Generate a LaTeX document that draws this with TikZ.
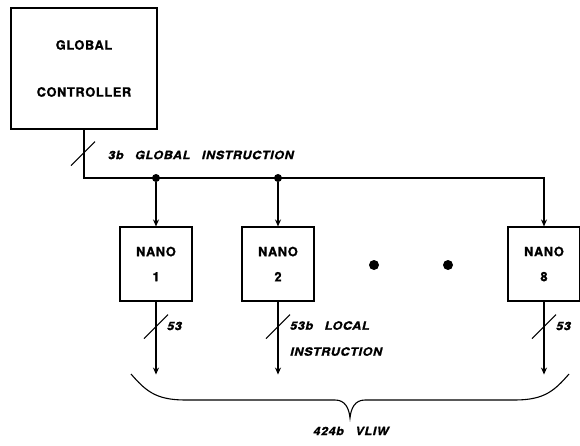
\documentclass[tikz,border=0pt]{standalone}
\usepackage{fontspec}
\setmainfont{TeX Gyre Heros}
\newfontfamily\boxfont{TeX Gyre Heros}[LetterSpace=5,FakeBold=1]
\newfontfamily\tagfont{TeX Gyre Heros}[LetterSpace=5,FakeStretch=1.1,FakeBold=1]
\usetikzlibrary{arrows.meta,calc}

\tikzset{
  >={Stealth[length=7pt,width=6pt]},
  unit/.style={draw, line width=1.1pt, minimum width=72pt, minimum height=74pt, inner sep=0pt, align=center, font=\boxfont\bfseries\fontsize{12.8}{15}\selectfont},
  tag/.style={inner sep=0pt, font=\tagfont\bfseries\itshape\fontsize{11.5}{13}\selectfont},
  tap/.style={circle, fill, inner sep=0pt, minimum size=8pt},
  more/.style={circle, fill, inner sep=0pt, minimum size=10pt},
  bus/.style={line width=1.1pt},
}

\begin{document}
\begin{tikzpicture}[x=1pt,y=-1pt]
\useasboundingbox (0,0) rectangle (580,446);

\node (gc) at (84,68.5) [unit, minimum width=146pt, minimum height=121pt] {GLOBAL\\[32pt]CONTROLLER};

\foreach \n/\x in {1/156,2/278,8/544}
    \node (n\n) at (\x,264) [unit] {NANO\\[10pt]\n};

\node (e1) at (374,265) [more] {};
\node (e2) at (448,265) [more] {};

% global instruction bus
\coordinate (bend) at (84,178);
\node (t1) at (156,178) [tap] {};
\node (t2) at (278,178) [tap] {};
\draw[bus,->] (gc.south) -- (bend) -| (n8.north);
\foreach \n in {1,2}
    \draw[bus,->] (t\n) -- (n\n.north);
\draw[bus] ($(gc.south)+(-13,36)$) -- +(24,-24);
\node (gtag) at (108,155) [tag, anchor=west] {3b\quad GLOBAL\quad INSTRUCTION};

% local instructions
\foreach \n in {1,2,8}
    {
    \coordinate (o\n) at ($(n\n.south)+(0,73)$);
    \draw[bus,->] (n\n.south) -- (o\n);
    \draw[bus] ($(n\n.south)+(-12,37)$) -- +(24,-24);
    }
\node (w1) at (167,326) [tag, anchor=west] {53};
\node (w2) at (290,321) [tag, anchor=north west, align=left] {53b\quad LOCAL\\[13pt]INSTRUCTION};
\node (w8) at (556,326) [tag, anchor=west] {53};

% brace
\draw[bus] (131,374) .. controls (145,390) and (155,400) .. (185,400) -- (335,400)
    .. controls (345,400) and (349,408) .. (350,418)
    .. controls (351,408) and (355,400) .. (365,400) -- (515,400)
    .. controls (545,400) and (555,390) .. (569,374);
\node (vliw) at (351,431) [tag] {424b\quad VLIW};

\end{tikzpicture}
\end{document}
